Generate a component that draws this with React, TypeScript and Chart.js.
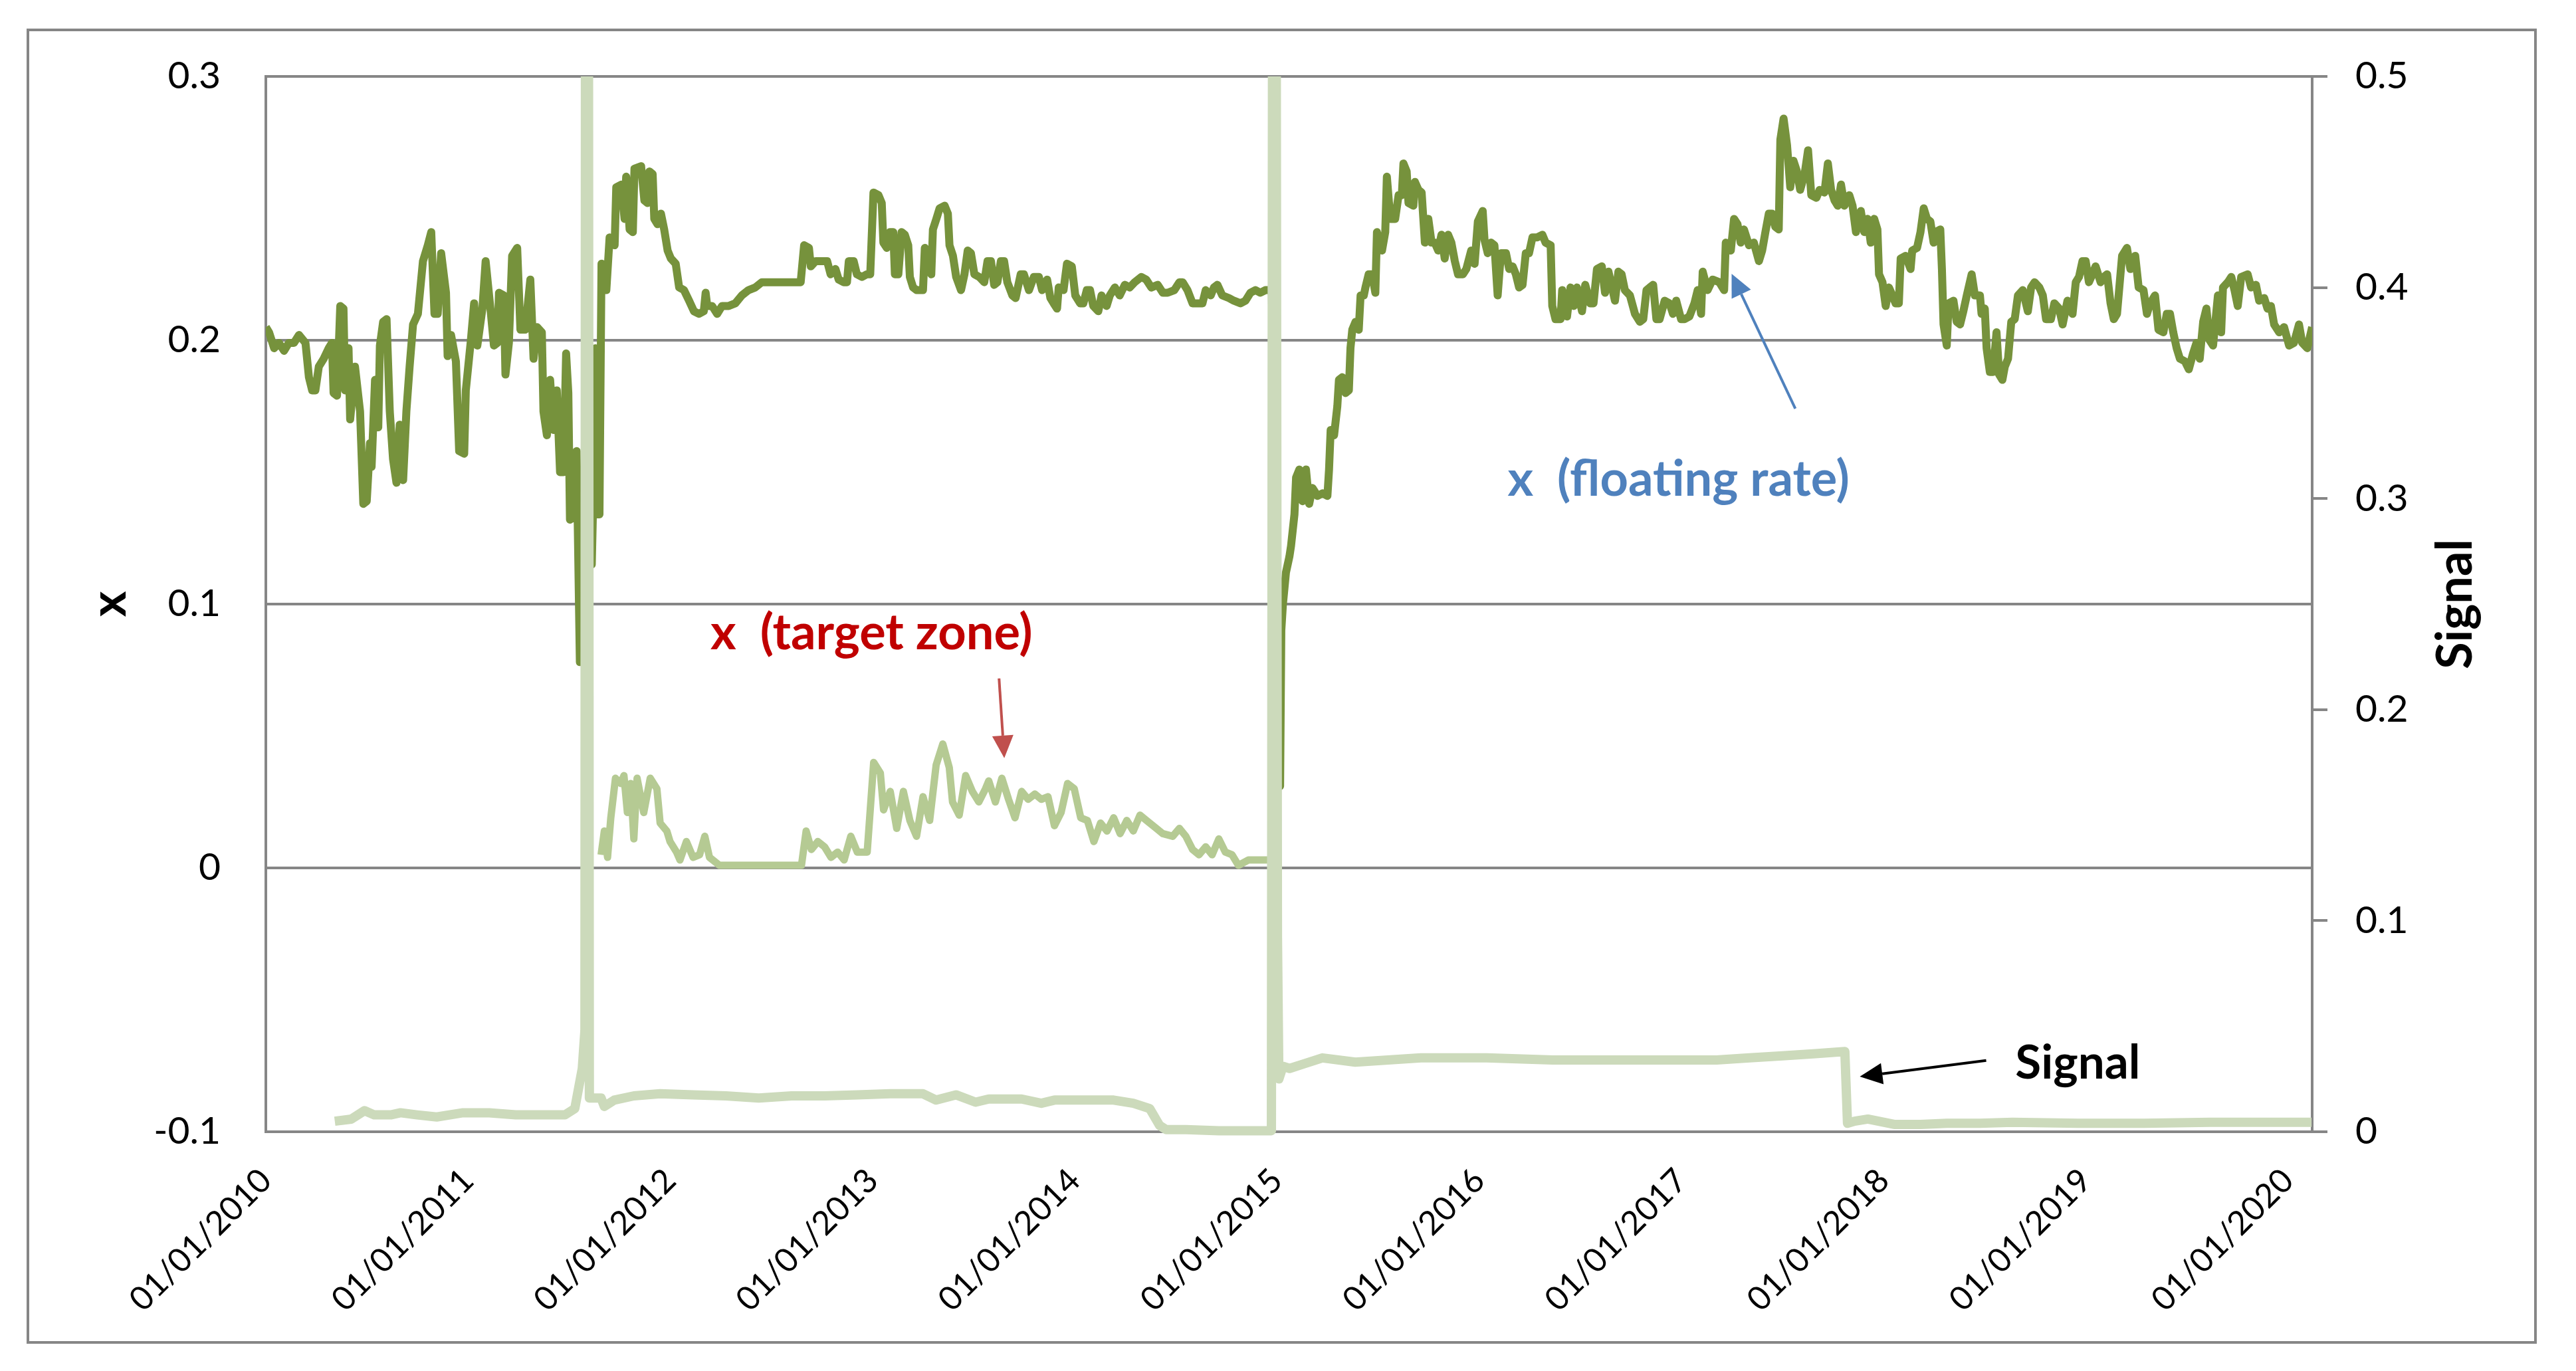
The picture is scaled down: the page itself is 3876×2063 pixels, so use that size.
import React, { useEffect, useRef } from 'react';
import { Chart, registerables } from 'chart.js';

Chart.register(...registerables);

// x axis: dates as fractional years
const yearTicks = [2010, 2011, 2012, 2013, 2014, 2015, 2016, 2017, 2018, 2019, 2020];
const xStart = 2010;
const xEnd = 2020.12;

const leftTicks = [-0.1, 0, 0.1, 0.2, 0.3];
const rightTicks = [0, 0.1, 0.2, 0.3, 0.4, 0.5];

// x (floating rate), left axis
const floatingRate: [number, number][] = [
  [2010.000, 0.205], [2010.016, 0.203], [2010.041, 0.197], [2010.065, 0.199], [2010.090, 0.196],
  [2010.114, 0.199], [2010.139, 0.199], [2010.164, 0.202], [2010.196, 0.199], [2010.213, 0.186],
  [2010.229, 0.181], [2010.245, 0.181], [2010.262, 0.190], [2010.286, 0.193], [2010.311, 0.197],
  [2010.327, 0.199], [2010.335, 0.180], [2010.352, 0.179], [2010.368, 0.213], [2010.384, 0.212],
  [2010.392, 0.181], [2010.409, 0.197], [2010.417, 0.170], [2010.441, 0.190], [2010.466, 0.173],
  [2010.482, 0.138], [2010.499, 0.139], [2010.515, 0.161], [2010.523, 0.152], [2010.540, 0.185],
  [2010.556, 0.167], [2010.564, 0.198], [2010.580, 0.207], [2010.597, 0.208], [2010.613, 0.173],
  [2010.629, 0.155], [2010.646, 0.146], [2010.662, 0.168], [2010.679, 0.147], [2010.695, 0.173],
  [2010.711, 0.190], [2010.728, 0.206], [2010.752, 0.210], [2010.777, 0.230], [2010.801, 0.236],
  [2010.818, 0.241], [2010.834, 0.210], [2010.850, 0.210], [2010.867, 0.233], [2010.891, 0.218],
  [2010.899, 0.194], [2010.916, 0.202], [2010.940, 0.192], [2010.956, 0.158], [2010.981, 0.157],
  [2010.989, 0.181], [2011.014, 0.200], [2011.030, 0.214], [2011.046, 0.198], [2011.071, 0.212],
  [2011.087, 0.230], [2011.112, 0.211], [2011.128, 0.198], [2011.145, 0.199], [2011.153, 0.218],
  [2011.177, 0.217], [2011.185, 0.187], [2011.202, 0.199], [2011.218, 0.232], [2011.243, 0.235],
  [2011.259, 0.204], [2011.283, 0.204], [2011.308, 0.223], [2011.324, 0.193], [2011.341, 0.205],
  [2011.365, 0.203], [2011.373, 0.173], [2011.390, 0.164], [2011.406, 0.185], [2011.422, 0.166],
  [2011.439, 0.181], [2011.455, 0.150], [2011.472, 0.150], [2011.485, 0.195], [2011.496, 0.180],
  [2011.504, 0.132], [2011.521, 0.133], [2011.537, 0.158], [2011.553, 0.078], [2011.575, 0.120],
  [2011.600, 0.155], [2011.612, 0.115], [2011.620, 0.143], [2011.630, 0.197], [2011.640, 0.134],
  [2011.650, 0.134], [2011.660, 0.229], [2011.684, 0.219], [2011.700, 0.239], [2011.725, 0.236],
  [2011.733, 0.258], [2011.758, 0.259], [2011.774, 0.246], [2011.782, 0.262], [2011.799, 0.242],
  [2011.815, 0.241], [2011.823, 0.265], [2011.856, 0.266], [2011.872, 0.253], [2011.888, 0.252],
  [2011.897, 0.264], [2011.913, 0.263], [2011.921, 0.246], [2011.937, 0.244], [2011.954, 0.248],
  [2011.970, 0.242], [2011.987, 0.234], [2012.003, 0.231], [2012.027, 0.229], [2012.044, 0.220],
  [2012.068, 0.219], [2012.093, 0.215], [2012.117, 0.211], [2012.142, 0.210], [2012.166, 0.211],
  [2012.175, 0.218], [2012.183, 0.213], [2012.207, 0.213], [2012.232, 0.210], [2012.256, 0.213],
  [2012.289, 0.213], [2012.322, 0.214], [2012.354, 0.217], [2012.387, 0.219], [2012.420, 0.220],
  [2012.453, 0.222], [2012.485, 0.222], [2012.526, 0.222], [2012.596, 0.222], [2012.645, 0.222],
  [2012.662, 0.236], [2012.686, 0.235], [2012.695, 0.228], [2012.719, 0.230], [2012.744, 0.230],
  [2012.776, 0.230], [2012.793, 0.225], [2012.817, 0.227], [2012.833, 0.223], [2012.858, 0.222],
  [2012.874, 0.222], [2012.883, 0.230], [2012.907, 0.230], [2012.923, 0.225], [2012.948, 0.224],
  [2012.972, 0.225], [2012.989, 0.225], [2013.005, 0.256], [2013.030, 0.255], [2013.046, 0.252],
  [2013.054, 0.237], [2013.071, 0.235], [2013.087, 0.241], [2013.103, 0.241], [2013.111, 0.225],
  [2013.128, 0.225], [2013.144, 0.241], [2013.160, 0.240], [2013.177, 0.236], [2013.185, 0.224],
  [2013.201, 0.220], [2013.218, 0.219], [2013.250, 0.219], [2013.259, 0.235], [2013.275, 0.230],
  [2013.291, 0.225], [2013.299, 0.242], [2013.316, 0.246], [2013.332, 0.250], [2013.357, 0.251],
  [2013.373, 0.248], [2013.381, 0.236], [2013.398, 0.232], [2013.414, 0.224], [2013.438, 0.219],
  [2013.455, 0.225], [2013.471, 0.234], [2013.487, 0.233], [2013.504, 0.225], [2013.528, 0.224],
  [2013.553, 0.222], [2013.569, 0.230], [2013.586, 0.230], [2013.602, 0.221], [2013.618, 0.222],
  [2013.635, 0.230], [2013.651, 0.230], [2013.667, 0.222], [2013.692, 0.217], [2013.708, 0.216],
  [2013.733, 0.225], [2013.749, 0.225], [2013.774, 0.219], [2013.798, 0.224], [2013.823, 0.224],
  [2013.839, 0.219], [2013.864, 0.223], [2013.880, 0.216], [2013.896, 0.214], [2013.913, 0.212],
  [2013.921, 0.220], [2013.945, 0.219], [2013.962, 0.229], [2013.986, 0.228], [2014.003, 0.217],
  [2014.027, 0.214], [2014.043, 0.214], [2014.060, 0.219], [2014.076, 0.219], [2014.092, 0.213],
  [2014.117, 0.211], [2014.133, 0.217], [2014.158, 0.213], [2014.174, 0.217], [2014.199, 0.220],
  [2014.223, 0.217], [2014.248, 0.221], [2014.272, 0.220], [2014.297, 0.222], [2014.330, 0.224],
  [2014.354, 0.223], [2014.379, 0.220], [2014.411, 0.221], [2014.436, 0.218], [2014.460, 0.218],
  [2014.493, 0.219], [2014.518, 0.222], [2014.534, 0.222], [2014.558, 0.219], [2014.583, 0.214],
  [2014.607, 0.214], [2014.632, 0.214], [2014.648, 0.219], [2014.673, 0.217], [2014.689, 0.220],
  [2014.706, 0.221], [2014.730, 0.217], [2014.763, 0.216], [2014.787, 0.215], [2014.820, 0.214],
  [2014.845, 0.215], [2014.869, 0.218], [2014.894, 0.219], [2014.918, 0.218], [2014.943, 0.219],
  [2014.959, 0.219], [2014.975, 0.219], [2014.995, 0.120], [2015.016, 0.031], [2015.022, 0.090],
  [2015.030, 0.100], [2015.045, 0.112], [2015.062, 0.118], [2015.070, 0.122], [2015.087, 0.134],
  [2015.095, 0.148], [2015.111, 0.151], [2015.127, 0.139], [2015.144, 0.151], [2015.160, 0.138],
  [2015.176, 0.144], [2015.201, 0.141], [2015.226, 0.142], [2015.250, 0.141], [2015.258, 0.151],
  [2015.266, 0.166], [2015.283, 0.164], [2015.299, 0.175], [2015.307, 0.185], [2015.324, 0.186],
  [2015.340, 0.180], [2015.356, 0.181], [2015.364, 0.197], [2015.373, 0.204], [2015.389, 0.207],
  [2015.405, 0.204], [2015.414, 0.217], [2015.430, 0.217], [2015.438, 0.220], [2015.454, 0.225],
  [2015.471, 0.225], [2015.487, 0.218], [2015.495, 0.241], [2015.520, 0.234], [2015.536, 0.241],
  [2015.544, 0.262], [2015.561, 0.246], [2015.585, 0.246], [2015.602, 0.255], [2015.618, 0.255],
  [2015.626, 0.267], [2015.642, 0.264], [2015.651, 0.252], [2015.675, 0.251], [2015.683, 0.260],
  [2015.700, 0.257], [2015.716, 0.256], [2015.732, 0.237], [2015.749, 0.246], [2015.765, 0.237],
  [2015.781, 0.237], [2015.798, 0.234], [2015.814, 0.240], [2015.830, 0.231], [2015.847, 0.240],
  [2015.863, 0.237], [2015.880, 0.230], [2015.896, 0.225], [2015.920, 0.225], [2015.937, 0.227],
  [2015.961, 0.234], [2015.978, 0.229], [2015.994, 0.245], [2016.018, 0.249], [2016.027, 0.238],
  [2016.043, 0.233], [2016.059, 0.237], [2016.076, 0.236], [2016.092, 0.217], [2016.108, 0.233],
  [2016.133, 0.233], [2016.149, 0.227], [2016.166, 0.228], [2016.182, 0.225], [2016.198, 0.220],
  [2016.215, 0.221], [2016.231, 0.233], [2016.247, 0.233], [2016.264, 0.239], [2016.288, 0.239],
  [2016.313, 0.240], [2016.329, 0.237], [2016.354, 0.236], [2016.362, 0.213], [2016.378, 0.208],
  [2016.403, 0.208], [2016.411, 0.219], [2016.435, 0.209], [2016.452, 0.220], [2016.468, 0.213],
  [2016.484, 0.220], [2016.509, 0.211], [2016.525, 0.221], [2016.550, 0.214], [2016.566, 0.214],
  [2016.583, 0.227], [2016.607, 0.228], [2016.623, 0.218], [2016.640, 0.226], [2016.672, 0.215],
  [2016.689, 0.226], [2016.705, 0.225], [2016.721, 0.219], [2016.746, 0.217], [2016.771, 0.210],
  [2016.795, 0.207], [2016.812, 0.208], [2016.828, 0.219], [2016.844, 0.220], [2016.861, 0.221],
  [2016.877, 0.208], [2016.893, 0.208], [2016.918, 0.215], [2016.942, 0.214], [2016.959, 0.210],
  [2016.975, 0.215], [2016.999, 0.208], [2017.016, 0.208], [2017.040, 0.209], [2017.065, 0.214],
  [2017.081, 0.219], [2017.098, 0.210], [2017.106, 0.226], [2017.130, 0.219], [2017.155, 0.223],
  [2017.188, 0.222], [2017.212, 0.219], [2017.220, 0.237], [2017.245, 0.234], [2017.261, 0.246],
  [2017.278, 0.244], [2017.294, 0.237], [2017.310, 0.242], [2017.335, 0.236], [2017.359, 0.237],
  [2017.384, 0.230], [2017.400, 0.234], [2017.416, 0.241], [2017.433, 0.248], [2017.449, 0.248],
  [2017.465, 0.243], [2017.482, 0.242], [2017.490, 0.276], [2017.506, 0.284], [2017.523, 0.274],
  [2017.539, 0.258], [2017.555, 0.268], [2017.572, 0.264], [2017.588, 0.257], [2017.610, 0.263],
  [2017.627, 0.272], [2017.643, 0.255], [2017.668, 0.254], [2017.684, 0.257], [2017.708, 0.256],
  [2017.725, 0.267], [2017.741, 0.257], [2017.758, 0.253], [2017.774, 0.251], [2017.790, 0.259],
  [2017.807, 0.251], [2017.831, 0.255], [2017.847, 0.251], [2017.864, 0.241], [2017.888, 0.249],
  [2017.905, 0.241], [2017.921, 0.246], [2017.937, 0.237], [2017.954, 0.246], [2017.970, 0.242],
  [2017.978, 0.225], [2017.995, 0.222], [2018.011, 0.213], [2018.027, 0.220], [2018.044, 0.217],
  [2018.060, 0.214], [2018.076, 0.214], [2018.085, 0.231], [2018.109, 0.232], [2018.134, 0.227],
  [2018.142, 0.234], [2018.166, 0.235], [2018.183, 0.241], [2018.199, 0.250], [2018.215, 0.246],
  [2018.232, 0.245], [2018.248, 0.237], [2018.256, 0.241], [2018.281, 0.242], [2018.289, 0.227],
  [2018.297, 0.206], [2018.313, 0.198], [2018.322, 0.214], [2018.346, 0.215], [2018.362, 0.207],
  [2018.379, 0.206], [2018.395, 0.211], [2018.412, 0.217], [2018.436, 0.225], [2018.452, 0.217],
  [2018.477, 0.217], [2018.485, 0.210], [2018.501, 0.212], [2018.510, 0.197], [2018.526, 0.188],
  [2018.542, 0.188], [2018.559, 0.203], [2018.572, 0.187], [2018.588, 0.185], [2018.600, 0.190],
  [2018.616, 0.193], [2018.632, 0.207], [2018.649, 0.208], [2018.665, 0.217], [2018.689, 0.219],
  [2018.714, 0.211], [2018.730, 0.220], [2018.747, 0.222], [2018.771, 0.220], [2018.788, 0.217],
  [2018.804, 0.208], [2018.828, 0.208], [2018.845, 0.214], [2018.869, 0.212], [2018.886, 0.206],
  [2018.910, 0.215], [2018.935, 0.210], [2018.951, 0.222], [2018.967, 0.224], [2018.984, 0.230],
  [2019.000, 0.230], [2019.016, 0.222], [2019.033, 0.225], [2019.049, 0.228], [2019.074, 0.222],
  [2019.090, 0.224], [2019.106, 0.225], [2019.123, 0.214], [2019.139, 0.208], [2019.155, 0.210],
  [2019.180, 0.232], [2019.204, 0.235], [2019.221, 0.227], [2019.245, 0.232], [2019.262, 0.220],
  [2019.286, 0.219], [2019.303, 0.210], [2019.319, 0.214], [2019.343, 0.217], [2019.360, 0.204],
  [2019.384, 0.203], [2019.401, 0.210], [2019.417, 0.210], [2019.433, 0.203], [2019.450, 0.197],
  [2019.466, 0.193], [2019.491, 0.192], [2019.510, 0.189], [2019.531, 0.195], [2019.548, 0.199],
  [2019.564, 0.193], [2019.581, 0.207], [2019.597, 0.212], [2019.613, 0.200], [2019.630, 0.198],
  [2019.654, 0.217], [2019.670, 0.203], [2019.679, 0.220], [2019.703, 0.222], [2019.720, 0.224],
  [2019.736, 0.219], [2019.752, 0.213], [2019.769, 0.224], [2019.801, 0.225], [2019.818, 0.220],
  [2019.842, 0.221], [2019.858, 0.215], [2019.883, 0.216], [2019.899, 0.212], [2019.916, 0.213],
  [2019.932, 0.206], [2019.957, 0.203], [2019.981, 0.205], [2020.006, 0.198], [2020.030, 0.199],
  [2020.055, 0.206], [2020.071, 0.199], [2020.096, 0.197], [2020.120, 0.205],
];

// x (target zone), left axis
const targetZone: [number, number][] = [
  [2011.658, 0.005], [2011.674, 0.014], [2011.690, 0.004], [2011.706, 0.019], [2011.729, 0.034],
  [2011.755, 0.032], [2011.771, 0.035], [2011.788, 0.021], [2011.804, 0.032], [2011.820, 0.011],
  [2011.836, 0.034], [2011.869, 0.021], [2011.901, 0.034], [2011.934, 0.030], [2011.950, 0.017],
  [2011.983, 0.014], [2011.999, 0.010], [2012.031, 0.006], [2012.048, 0.003], [2012.080, 0.010],
  [2012.113, 0.004], [2012.145, 0.005], [2012.171, 0.012], [2012.194, 0.004], [2012.243, 0.001],
  [2012.340, 0.001], [2012.470, 0.001], [2012.600, 0.001], [2012.649, 0.001], [2012.672, 0.014],
  [2012.698, 0.007], [2012.730, 0.010], [2012.763, 0.008], [2012.795, 0.004], [2012.828, 0.006],
  [2012.860, 0.003], [2012.893, 0.012], [2012.925, 0.006], [2012.974, 0.006], [2013.006, 0.040],
  [2013.039, 0.036], [2013.055, 0.022], [2013.088, 0.029], [2013.120, 0.015], [2013.153, 0.029],
  [2013.185, 0.018], [2013.218, 0.012], [2013.250, 0.027], [2013.283, 0.018], [2013.315, 0.039],
  [2013.348, 0.047], [2013.380, 0.038], [2013.396, 0.025], [2013.429, 0.020], [2013.461, 0.035],
  [2013.494, 0.029], [2013.526, 0.025], [2013.559, 0.030], [2013.575, 0.033], [2013.608, 0.025],
  [2013.640, 0.034], [2013.673, 0.026], [2013.705, 0.019], [2013.738, 0.029], [2013.770, 0.026],
  [2013.803, 0.028], [2013.835, 0.026], [2013.868, 0.027], [2013.900, 0.016], [2013.933, 0.021],
  [2013.965, 0.032], [2013.998, 0.030], [2014.030, 0.019], [2014.063, 0.018], [2014.095, 0.010],
  [2014.128, 0.017], [2014.160, 0.014], [2014.193, 0.019], [2014.225, 0.013], [2014.258, 0.018],
  [2014.290, 0.014], [2014.323, 0.020], [2014.355, 0.018], [2014.404, 0.015], [2014.436, 0.013],
  [2014.485, 0.012], [2014.518, 0.015], [2014.550, 0.012], [2014.583, 0.007], [2014.615, 0.005],
  [2014.648, 0.008], [2014.680, 0.005], [2014.713, 0.011], [2014.745, 0.006], [2014.778, 0.005],
  [2014.810, 0.001], [2014.859, 0.003], [2014.908, 0.003], [2014.956, 0.003],
];

// Signal, right axis (the two spikes run off the top of the scale)
const signal: [number, number][] = [
  [2010.341, 0.005], [2010.423, 0.006], [2010.488, 0.010], [2010.536, 0.008], [2010.618, 0.008],
  [2010.666, 0.009], [2010.748, 0.008], [2010.845, 0.007], [2010.975, 0.009], [2011.105, 0.009],
  [2011.235, 0.008], [2011.365, 0.008], [2011.479, 0.008], [2011.528, 0.011], [2011.565, 0.030],
  [2011.578, 0.048], [2011.583, 0.95], [2011.592, 0.95], [2011.600, 0.016], [2011.658, 0.016],
  [2011.674, 0.012], [2011.723, 0.015], [2011.820, 0.017], [2011.950, 0.018], [2012.113, 0.0175],
  [2012.275, 0.017], [2012.438, 0.016], [2012.600, 0.017], [2012.763, 0.017], [2012.925, 0.0175],
  [2013.088, 0.018], [2013.250, 0.018], [2013.315, 0.015], [2013.413, 0.0175], [2013.510, 0.014],
  [2013.575, 0.0155], [2013.738, 0.0155], [2013.835, 0.0135], [2013.900, 0.015], [2014.063, 0.015],
  [2014.193, 0.015], [2014.290, 0.0135], [2014.371, 0.011], [2014.420, 0.003], [2014.453, 0.001],
  [2014.550, 0.001], [2014.713, 0.0005], [2014.875, 0.0005], [2014.973, 0.0005], [2014.983, 0.95],
  [2014.991, 0.95], [2015.003, 0.092], [2015.010, 0.025], [2015.030, 0.031], [2015.063, 0.030],
  [2015.128, 0.032], [2015.225, 0.035], [2015.388, 0.033], [2015.550, 0.034], [2015.713, 0.035],
  [2016.038, 0.035], [2016.363, 0.034], [2016.688, 0.034], [2017.013, 0.034], [2017.175, 0.034],
  [2017.338, 0.035], [2017.500, 0.036], [2017.663, 0.037], [2017.809, 0.038], [2017.822, 0.004],
  [2017.857, 0.005], [2017.923, 0.006], [2018.053, 0.0035], [2018.183, 0.0035], [2018.313, 0.004],
  [2018.475, 0.004], [2018.638, 0.0045], [2018.963, 0.004], [2019.288, 0.004], [2019.613, 0.0045],
  [2019.938, 0.0045], [2020.117, 0.0045],
];

// callouts, placed in data units of the x axis and the left axis
const notes = [
  { text: 'x  (target zone)', x: 2012.199, y: 0.0829, color: '#C00000', size: 74 },
  { text: 'x  (floating rate)', x: 2016.141, y: 0.1411, color: '#4F81BD', size: 74 },
  { text: 'Signal', x: 2018.652, y: -0.0798, color: '#000000', size: 71 },
];

const arrows = [
  { from: [2013.626, 0.0718], to: [2013.652, 0.0416], color: '#C0504D' },
  { from: [2017.564, 0.1741], to: [2017.249, 0.2252], color: '#4F81BD' },
  { from: [2018.508, -0.0730], to: [2017.883, -0.0791], color: '#000000' },
];

const GRID = '#868686';
const FONT = 'Lato';

const toPoints = (rows: [number, number][]) => rows.map(([x, y]) => ({ x, y }));
const fmt = (v: number | string) => String(Math.round(Number(v) * 10) / 10);

const drawArrow = (ctx: CanvasRenderingContext2D, x1: number, y1: number, x2: number, y2: number, color: string) => {
  const ang = Math.atan2(y2 - y1, x2 - x1);
  const len = 34;
  const half = 16;
  const bx = x2 - len * Math.cos(ang);
  const by = y2 - len * Math.sin(ang);
  ctx.strokeStyle = color;
  ctx.fillStyle = color;
  ctx.lineWidth = 4;
  ctx.beginPath();
  ctx.moveTo(x1, y1);
  ctx.lineTo(bx, by);
  ctx.stroke();
  ctx.beginPath();
  ctx.moveTo(x2, y2);
  ctx.lineTo(bx + half * Math.sin(ang), by - half * Math.cos(ang));
  ctx.lineTo(bx - half * Math.sin(ang), by + half * Math.cos(ang));
  ctx.closePath();
  ctx.fill();
};

const decorations = {
  id: 'decorations',
  afterDraw(chart: any) {
    const { ctx, chartArea } = chart;
    const xs = chart.scales.x;
    const ys = chart.scales.y;
    ctx.save();

    // outer frame of the chart
    ctx.strokeStyle = GRID;
    ctx.lineWidth = 4;
    ctx.strokeRect(42, 45, 3773, 1975);

    ctx.textAlign = 'left';
    ctx.textBaseline = 'alphabetic';
    notes.forEach((n) => {
      ctx.font = `bold ${n.size}px ${FONT}`;
      ctx.fillStyle = n.color;
      ctx.fillText(n.text, xs.getPixelForValue(n.x), ys.getPixelForValue(n.y));
    });

    arrows.forEach((a) => {
      drawArrow(
        ctx,
        xs.getPixelForValue(a.from[0]), ys.getPixelForValue(a.from[1]),
        xs.getPixelForValue(a.to[0]), ys.getPixelForValue(a.to[1]),
        a.color,
      );
    });

    // axis titles, both reading bottom to top
    const midY = (chartArea.top + chartArea.bottom) / 2;
    ctx.fillStyle = '#000';
    ctx.font = `bold 74px ${FONT}`;
    ctx.textAlign = 'center';
    [['x', chartArea.left - 211], ['Signal', chartArea.right + 240]].forEach(([t, px]) => {
      ctx.save();
      ctx.translate(px as number, midY);
      ctx.rotate(-Math.PI / 2);
      ctx.fillText(t as string, 0, 0);
      ctx.restore();
    });

    ctx.restore();
  },
};

const App: React.FC = () => {
  const chartRef = useRef<HTMLCanvasElement>(null);
  const chartInstance = useRef<Chart | null>(null);

  useEffect(() => {
    if (!chartRef.current) return;
    if (chartInstance.current) chartInstance.current.destroy();

    const tickFont = { family: FONT, size: 57 };

    chartInstance.current = new Chart(chartRef.current, {
      type: 'line',
      data: {
        datasets: [
          {
            label: 'Signal',
            data: toPoints(signal),
            yAxisID: 'y1',
            borderColor: '#CCDABB',
            borderWidth: 14,
            pointRadius: 0,
            borderJoinStyle: 'round',
            clip: { left: 10, top: 0, right: 10, bottom: 8 },
          },
          {
            label: 'x (target zone)',
            data: toPoints(targetZone),
            yAxisID: 'y',
            borderColor: '#B5CA93',
            borderWidth: 11,
            pointRadius: 0,
            borderJoinStyle: 'round',
          },
          {
            label: 'x (floating rate)',
            data: toPoints(floatingRate),
            yAxisID: 'y',
            borderColor: '#76923C',
            borderWidth: 12,
            pointRadius: 0,
            borderJoinStyle: 'round',
          },
        ],
      },
      options: {
        animation: false,
        responsive: true,
        maintainAspectRatio: false,
        layout: { padding: { top: 115, left: 0, right: 0, bottom: 0 } },
        plugins: {
          legend: { display: false },
          tooltip: { enabled: false },
        },
        scales: {
          x: {
            type: 'linear',
            min: xStart,
            max: xEnd,
            afterBuildTicks: (s: any) => {
              s.ticks = yearTicks.map((v) => ({ value: v }));
            },
            afterFit: (s: any) => {
              s.height = 360;
            },
            grid: { display: false, drawTicks: false },
            border: { display: false },
            ticks: {
              autoSkip: false,
              minRotation: 45,
              maxRotation: 45,
              padding: 44,
              color: '#000',
              font: { family: FONT, size: 50 },
              callback: (v: any) => '01/01/' + v,
            },
          },
          y: {
            type: 'linear',
            position: 'left',
            min: -0.1,
            max: 0.3,
            afterBuildTicks: (s: any) => {
              s.ticks = leftTicks.map((v) => ({ value: v }));
            },
            afterFit: (s: any) => {
              s.width = 400;
            },
            grid: { color: GRID, lineWidth: 4, drawTicks: false },
            border: { display: true, color: GRID, width: 4 },
            ticks: { padding: 68, color: '#000', font: tickFont, callback: (v: any) => fmt(v) },
          },
          y1: {
            type: 'linear',
            position: 'right',
            min: 0,
            max: 0.5,
            afterBuildTicks: (s: any) => {
              s.ticks = rightTicks.map((v) => ({ value: v }));
            },
            afterFit: (s: any) => {
              s.width = 397;
            },
            grid: { drawOnChartArea: false, drawTicks: true, tickLength: 23, color: GRID, lineWidth: 4 },
            border: { display: true, color: GRID, width: 4 },
            ticks: { padding: 42, color: '#000', font: tickFont, callback: (v: any) => fmt(v) },
          },
        },
      },
      plugins: [decorations],
    });

    return () => {
      if (chartInstance.current) {
        chartInstance.current.destroy();
        chartInstance.current = null;
      }
    };
  }, []);

  return (
    <div style={{ position: 'fixed', left: 0, top: 0, width: '100vw', height: '100vh', background: '#fff' }}>
      <canvas ref={chartRef}></canvas>
    </div>
  );
};

export default App;
